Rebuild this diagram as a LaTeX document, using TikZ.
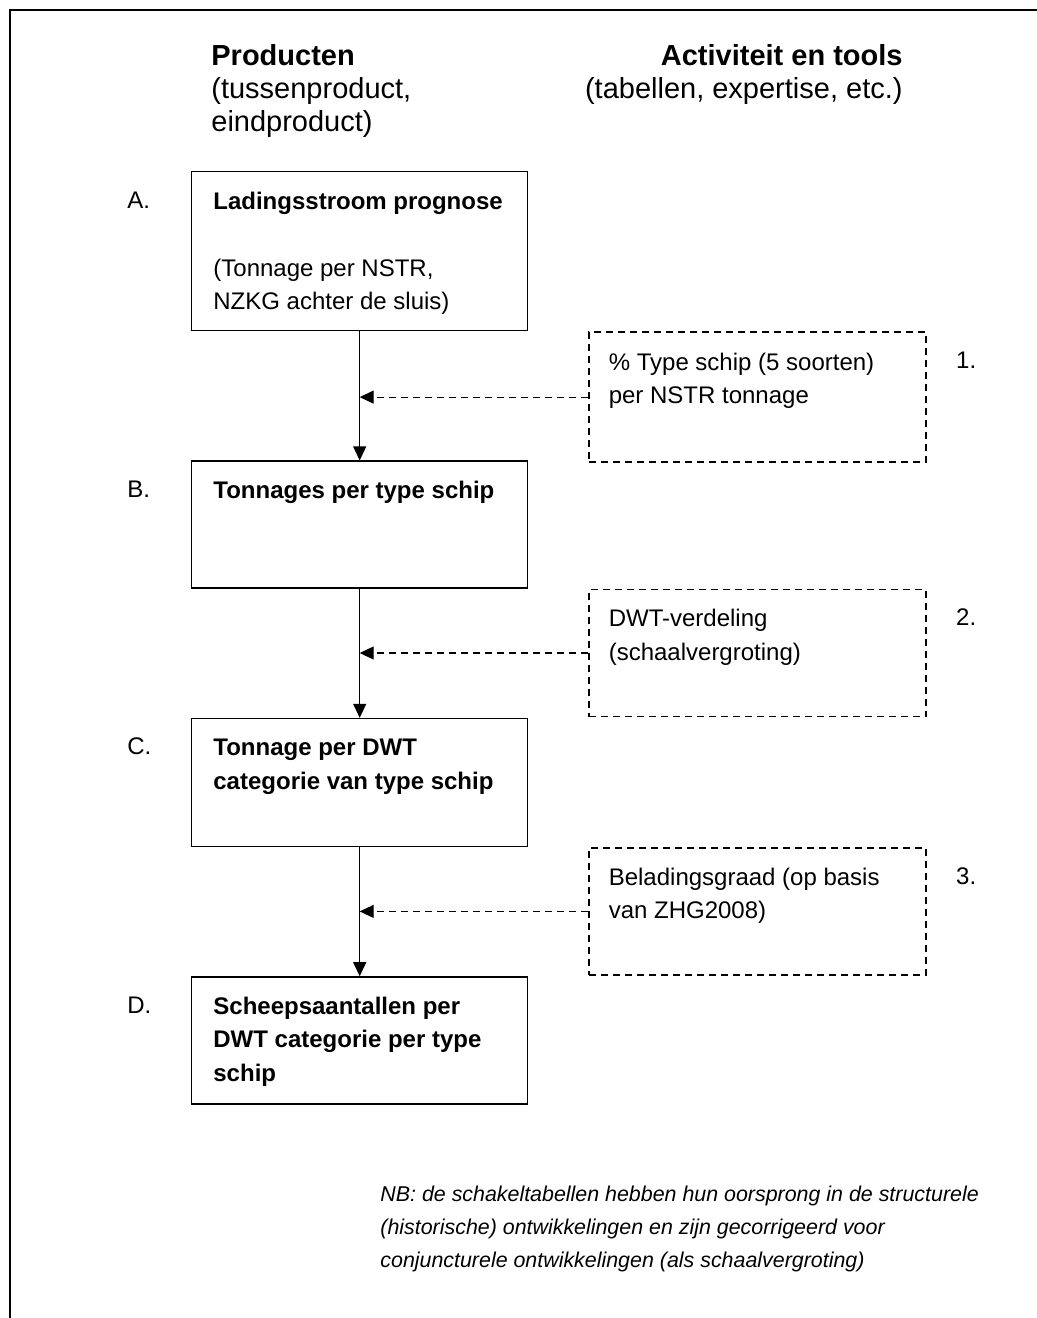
\documentclass[tikz,border=0pt]{standalone}
\usepackage{fontspec}
\setmainfont{Liberation Sans}
\usetikzlibrary{positioning,calc,arrows.meta}

\begin{document}
\begin{tikzpicture}[x=0.5pt,y=-0.5pt,
    txt/.style={inner sep=0pt,align=left,anchor=base west,font=\fontsize{12}{16.75}\selectfont},
    head/.style={inner sep=0pt,font=\fontsize{14.5}{16.5}\selectfont},
    prod/.style={draw,line width=0.7pt,minimum width=168pt,inner sep=0pt},
    tool/.style={draw,dash pattern=on 3.5pt off 2.5pt,line width=0.7pt,minimum width=168.5pt,inner sep=0pt,anchor=north west},
    arr/.style={-{Triangle[length=7pt,width=6.5pt]},line width=0.6pt},
    darr/.style={arr,dash pattern=on 3.5pt off 2.5pt},
    node distance=64.5pt]
    \useasboundingbox (0,0) rectangle (1037,1318);
    % frame
    \draw[line width=0.7pt] (10,1318) -- (10,10) -- (1037,10);
    % headings (anchored at the baseline of the last line)
    \node[head,anchor=base west,align=left] (hprod) at (211,131) {\textbf{Producten}\\(tussenproduct,\\eindproduct)};
    \node[head,anchor=base east,align=right] (htool) at (903,98) {\textbf{Activiteit en tools}\\(tabellen, expertise, etc.)};
    % products
    \node[prod,minimum height=79.5pt,anchor=north west] (A) at (191,171) {};
    \node[prod,minimum height=63.5pt,below=of A] (B) {};
    \node[prod,minimum height=64pt,below=of B] (C) {};
    \node[prod,minimum height=63.5pt,below=of C] (D) {};
    \node[txt] (tA) at ($(A.north west)+(22,138.5)$) {\textbf{Ladingsstroom prognose}\\[16.75pt](Tonnage per NSTR,\\NZKG achter de sluis)};
    \node[txt] (tB) at ($(B.north west)+(22,38)$) {\textbf{Tonnages per type schip}};
    \node[txt] (tC) at ($(C.north west)+(22,71.5)$) {\textbf{Tonnage per DWT}\\\textbf{categorie van type schip}};
    \node[txt] (tD) at ($(D.north west)+(22,105)$) {\textbf{Scheepsaantallen per}\\\textbf{DWT categorie per type}\\\textbf{schip}};
    \foreach \n in {A,B,C,D}
        \node[txt] (l\n) at ($(\n.north west)+(-64,37)$) {\n.};
    % tools
    \node[tool,minimum height=65pt] (T1) at ([xshift=30pt]A.south east) {};
    \node[tool,minimum height=63.5pt] (T2) at ([xshift=30pt]B.south east) {};
    \node[tool,minimum height=63.5pt] (T3) at ([xshift=30pt]C.south east) {};
    \node[txt] (t1) at ($(T1.north west)+(20,72.5)$) {\% Type schip (5 soorten)\\per NSTR tonnage};
    \node[txt] (t2) at ($(T2.north west)+(20,71.5)$) {DWT-verdeling\\(schaalvergroting)};
    \node[txt] (t3) at ($(T3.north west)+(20,71.5)$) {Beladingsgraad (op basis\\van ZHG2008)};
    \foreach \n in {1,2,3}
        \node[txt] (n\n) at ($(T\n.north east)+(29,37)$) {\n.};
    % arrows
    \draw[arr] (A) -- (B);
    \draw[arr] (B) -- (C);
    \draw[arr] (C) -- (D);
    \foreach \n/\p in {1/A,2/B,3/C} {
        \coordinate (m\n) at (T\n.west -| \p.south);
        \draw[darr] (T\n) -- (m\n);
    }
    % note
    \node[inner sep=0pt,anchor=base west,align=left,font=\fontsize{10.7}{16.5}\selectfont\itshape] (nb) at (380,1267)
        {NB: de schakeltabellen hebben hun oorsprong in de structurele\\(historische) ontwikkelingen en zijn gecorrigeerd voor\\conjuncturele ontwikkelingen (als schaalvergroting)};
\end{tikzpicture}
\end{document}
